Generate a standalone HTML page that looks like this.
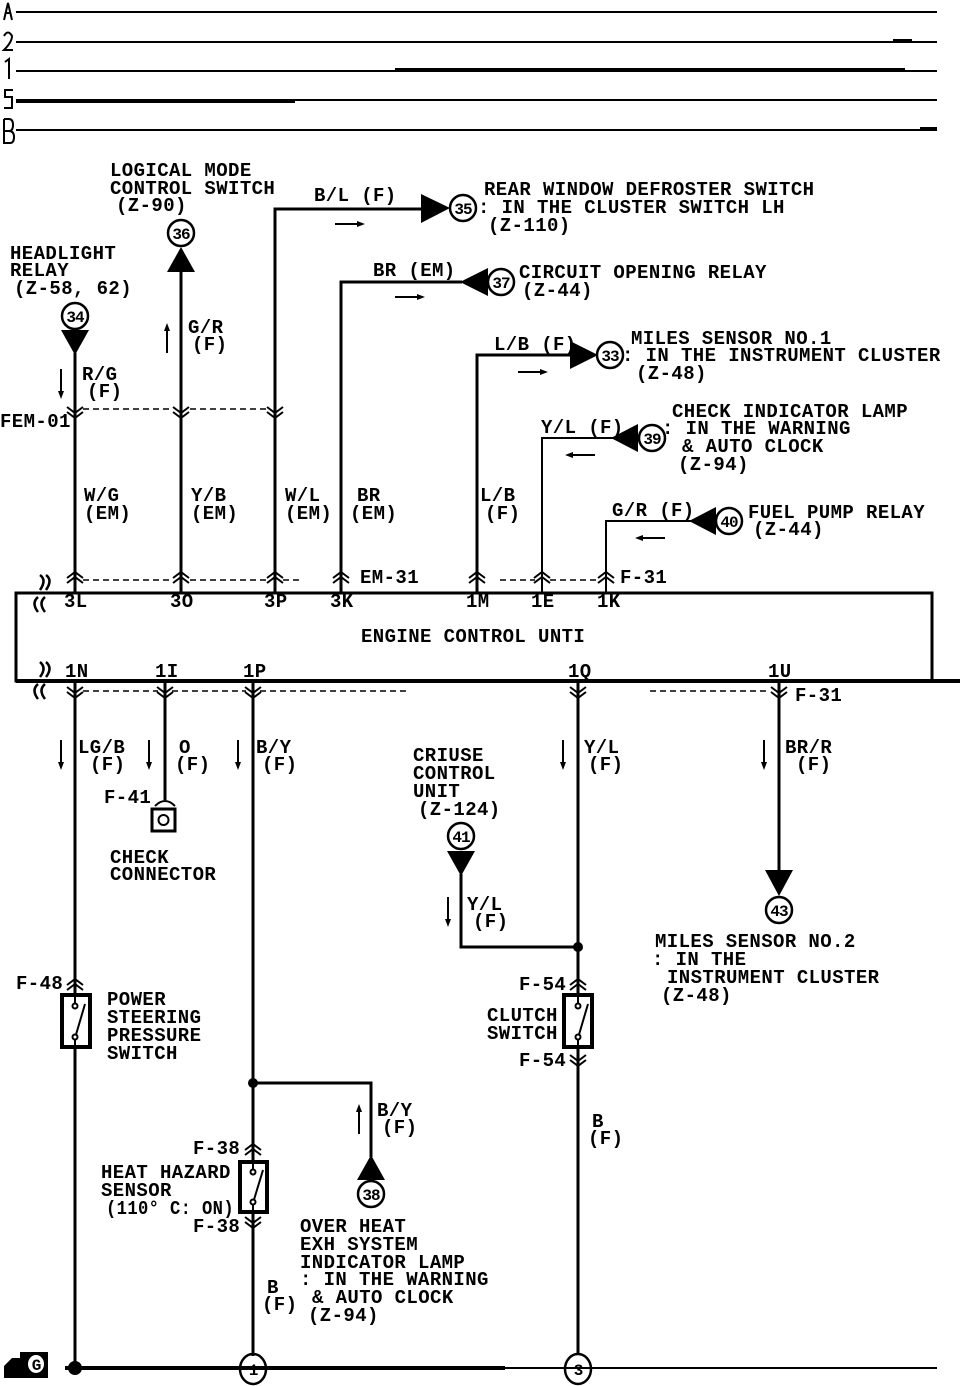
<!DOCTYPE html>
<html><head><meta charset="utf-8"><style>
html,body{margin:0;padding:0;background:#fff;}
svg{display:block;}
text{font-family:"Liberation Mono",monospace;font-size:19px;font-weight:bold;letter-spacing:0.4px;fill:#000;}
.n{font-size:16px;letter-spacing:-1px;text-anchor:middle;}
</style></head><body>
<svg width="960" height="1386" viewBox="0 0 960 1386" xmlns="http://www.w3.org/2000/svg">
<defs>
<g id="up"><path d="M-8,5 L0,-1 L8,5 M-8,0 L0,-6 L8,0" fill="none" stroke="#000" stroke-width="2"/></g>
<g id="dn"><path d="M-8,-5 L0,1 L8,-5 M-8,0 L0,6 L8,0" fill="none" stroke="#000" stroke-width="2"/></g>
<g id="ad"><path d="M0,0 V24" stroke="#000" stroke-width="2"/><path d="M-3,22 L0,30 L3,22Z" fill="#000"/></g>
<g id="au"><path d="M0,30 V6" stroke="#000" stroke-width="2"/><path d="M-3,8 L0,0 L3,8Z" fill="#000"/></g>
<g id="ar"><path d="M0,0 H24" stroke="#000" stroke-width="2"/><path d="M22,-3 L30,0 L22,3Z" fill="#000"/></g>
<g id="al"><path d="M30,0 H6" stroke="#000" stroke-width="2"/><path d="M8,-3 L0,0 L8,3Z" fill="#000"/></g>
</defs>

<!-- bus lines -->
<g stroke="#000" stroke-width="2">
<path d="M16,12 H937 M16,42 H937 M16,71 H937 M16,100 H937 M16,130 H937"/>
</g>
<g stroke="#000" stroke-width="4">
<path d="M893,41 H912 M395,70 H905 M16,101 H295 M920,129 H937"/>
</g>
<g stroke="#000" stroke-width="2" fill="none">
<path d="M4,20 L8,3 L12,20 M5,13 H11"/>
<path d="M4,36 Q8,29 12,36 Q12,42 4,50 H13"/>
<path d="M5,62 L9,59 V79"/>
<path d="M13,90 H5 V97 H12 V108 H4"/>
<path d="M4,119 V143 H10 Q14,143 14,137 Q14,131 9,131 H4 M4,131 H9 Q13,131 13,125 Q13,119 9,119 H4"/>
</g>

<!-- ECU box -->
<rect x="16" y="593" width="916" height="88" fill="none" stroke="#000" stroke-width="3"/>
<path d="M16,681 H932 M866,681 H960" stroke="#000" stroke-width="4"/>
<text x="361" y="642">ENGINE CONTROL UNTI</text>

<!-- top wires -->
<g stroke="#000" stroke-width="3" fill="none">
<path d="M75,353 V593"/>
<path d="M181,272 V593"/>
<path d="M275,593 V209 H422"/>
<path d="M341,593 V282 H462"/>
<path d="M477,593 V355 H572"/>
</g>
<g stroke="#000" stroke-width="2" fill="none">
<path d="M542,593 V438 H614"/>
<path d="M606,593 V521 H692"/>
</g>
<!-- triangles -->
<g fill="#000">
<path d="M61,330 H89 L75,355Z"/>
<path d="M167,272 H195 L181,247Z"/>
<path d="M421,194 V223 L450,208Z"/>
<path d="M488,268 V296 L460,282Z"/>
<path d="M570,341 V369 L598,355Z"/>
<path d="M638,424 V452 L611,438Z"/>
<path d="M716,507 V535 L689,521Z"/>
<path d="M447,851 H475 L461,876Z"/>
<path d="M765,870 H793 L779,896Z"/>
<path d="M357,1180 H385 L371,1155Z"/>
</g>
<!-- numbered circles -->
<g fill="#fff" stroke="#000" stroke-width="2.5">
<circle cx="75" cy="316" r="13"/>
<circle cx="181" cy="233" r="13"/>
<circle cx="463" cy="208" r="13"/>
<circle cx="501" cy="282" r="13"/>
<circle cx="610" cy="355" r="13"/>
<circle cx="652" cy="438" r="13"/>
<circle cx="729" cy="521" r="13"/>
<circle cx="461" cy="836" r="13"/>
<circle cx="779" cy="910" r="13"/>
<circle cx="371" cy="1194" r="13"/>
<ellipse cx="253" cy="1369" rx="13" ry="15"/>
<ellipse cx="578" cy="1369" rx="13" ry="15"/>
</g>
<text class="n" x="75" y="322">34</text>
<text class="n" x="181" y="239">36</text>
<text class="n" x="463" y="214">35</text>
<text class="n" x="501" y="288">37</text>
<text class="n" x="610" y="361">33</text>
<text class="n" x="652" y="444">39</text>
<text class="n" x="729" y="527">40</text>
<text class="n" x="461" y="842">41</text>
<text class="n" x="779" y="916">43</text>
<text class="n" x="371" y="1200">38</text>
<text class="n" x="253" y="1375">1</text>
<text class="n" x="578" y="1375">3</text>

<!-- connector rows -->
<path d="M83,409 H172 M190,409 H268" stroke="#000" stroke-width="1.5" stroke-dasharray="6,4" fill="none"/>
<use href="#dn" x="75" y="412"/><use href="#dn" x="181" y="412"/><use href="#dn" x="275" y="412"/>
<path d="M83,580 H172 M190,580 H268 M283,580 H300 M500,580 H535 M550,580 H598" stroke="#000" stroke-width="1.5" stroke-dasharray="6,4" fill="none"/>
<use href="#up" x="75" y="578"/><use href="#up" x="181" y="578"/><use href="#up" x="275" y="578"/><use href="#up" x="341" y="578"/><use href="#up" x="477" y="578"/><use href="#up" x="542" y="578"/><use href="#up" x="606" y="578"/>
<path d="M83,691 H158 M172,691 H246 M260,691 H410 M650,691 H770" stroke="#000" stroke-width="1.5" stroke-dasharray="6,4" fill="none"/>
<use href="#dn" x="75" y="692"/><use href="#dn" x="165" y="692"/><use href="#dn" x="253" y="692"/><use href="#dn" x="578" y="692"/><use href="#dn" x="779" y="692"/>
<g stroke="#000" stroke-width="2.5" fill="none">
<path d="M40,575 Q47,580 40,590 M46,575 Q53,580 46,590"/>
<path d="M38,597 Q31,603 38,612 M45,597 Q38,603 45,612"/>
<path d="M40,662 Q47,668 40,677 M46,662 Q53,668 46,677"/>
<path d="M38,684 Q31,690 38,699 M45,684 Q38,690 45,699"/>
</g>

<!-- bottom wires -->
<g stroke="#000" stroke-width="3" fill="none">
<path d="M75,681 V1368"/>
<path d="M165,681 V800"/>
<path d="M253,681 V1356"/>
<path d="M578,681 V1354"/>
<path d="M779,681 V872"/>
<path d="M253,1083 H371 V1157"/>
<path d="M578,947 H461 V874"/>
</g>
<circle cx="253" cy="1083" r="5" fill="#000"/>
<circle cx="578" cy="947" r="5" fill="#000"/>
<!-- check connector -->
<path d="M155,806 Q165,796 175,806" stroke="#000" stroke-width="2" fill="none"/>
<rect x="152" y="809" width="23" height="22" fill="#fff" stroke="#000" stroke-width="3"/>
<circle cx="163.5" cy="820" r="5" fill="none" stroke="#000" stroke-width="2"/>
<!-- switches -->
<g stroke="#000" fill="#fff">
<rect x="62" y="995" width="28" height="52" stroke-width="4"/>
<rect x="240" y="1162" width="27" height="50" stroke-width="4"/>
<rect x="564" y="995" width="28" height="52" stroke-width="4"/>
</g>
<g stroke="#000" stroke-width="2" fill="#fff">
<path d="M75,995 V1004 M75,1038 V1047 M85,1004 L75,1038"/><circle cx="75" cy="1006" r="2.5"/><circle cx="75" cy="1037" r="2.5"/>
<path d="M253,1162 V1170 M253,1203 V1212 M263,1170 L253,1203"/><circle cx="253" cy="1172" r="2.5"/><circle cx="253" cy="1202" r="2.5"/>
<path d="M578,995 V1004 M578,1038 V1047 M588,1004 L578,1038"/><circle cx="578" cy="1006" r="2.5"/><circle cx="578" cy="1037" r="2.5"/>
</g>
<use href="#up" x="75" y="985"/><use href="#up" x="253" y="1150"/><use href="#dn" x="253" y="1222"/>
<use href="#up" x="578" y="985"/><use href="#dn" x="578" y="1060"/>

<!-- ground bus -->
<path d="M65,1368 H937" stroke="#000" stroke-width="2"/>
<path d="M65,1368 H505" stroke="#000" stroke-width="4"/>
<circle cx="75" cy="1368" r="7" fill="#000"/>
<path d="M4,1378 V1366 L12,1358 H20 V1352 H48 V1378 Z" fill="#000"/>
<ellipse cx="36" cy="1364" rx="9" ry="10" fill="#fff" stroke="#000" stroke-width="2"/>
<text class="n" x="36" y="1370">G</text>

<!-- small arrows -->
<use href="#ad" x="61" y="369"/><use href="#au" x="167" y="323"/>
<use href="#ar" x="335" y="224"/><use href="#ar" x="395" y="297"/><use href="#ar" x="518" y="372"/>
<use href="#al" x="565" y="455"/><use href="#al" x="635" y="538"/>
<use href="#ad" x="61" y="740"/><use href="#ad" x="149" y="740"/><use href="#ad" x="238" y="740"/><use href="#ad" x="563" y="740"/><use href="#ad" x="764" y="740"/>
<use href="#ad" x="448" y="897"/><use href="#au" x="359" y="1104"/>

<!-- labels -->
<text x="110" y="176">LOGICAL MODE</text>
<text x="110" y="194">CONTROL SWITCH</text>
<text x="116" y="211">(Z-90)</text>
<text x="10" y="259">HEADLIGHT</text>
<text x="10" y="276">RELAY</text>
<text x="14" y="294">(Z-58, 62)</text>
<text x="82" y="380">R/G</text><text x="87" y="397">(F)</text>
<text x="188" y="333">G/R</text><text x="192" y="350">(F)</text>
<text x="314" y="201">B/L (F)</text>
<text x="373" y="276">BR (EM)</text>
<text x="494" y="350">L/B (F)</text>
<text x="541" y="433">Y/L (F)</text>
<text x="612" y="516">G/R (F)</text>
<text x="484" y="195">REAR WINDOW DEFROSTER SWITCH</text>
<text x="478" y="213">: IN THE CLUSTER SWITCH LH</text>
<text x="488" y="231">(Z-110)</text>
<text x="519" y="278">CIRCUIT OPENING RELAY</text>
<text x="522" y="296">(Z-44)</text>
<text x="631" y="344">MILES SENSOR NO.1</text>
<text x="622" y="361">: IN THE INSTRUMENT CLUSTER</text>
<text x="636" y="379">(Z-48)</text>
<text x="672" y="417">CHECK INDICATOR LAMP</text>
<text x="662" y="434">: IN THE WARNING</text>
<text x="682" y="452">&amp; AUTO CLOCK</text>
<text x="678" y="470">(Z-94)</text>
<text x="748" y="518">FUEL PUMP RELAY</text>
<text x="753" y="535">(Z-44)</text>
<text x="0" y="427">FEM-01</text>
<text x="84" y="501">W/G</text><text x="84" y="519">(EM)</text>
<text x="191" y="501">Y/B</text><text x="191" y="519">(EM)</text>
<text x="285" y="501">W/L</text><text x="285" y="519">(EM)</text>
<text x="357" y="501">BR</text><text x="350" y="519">(EM)</text>
<text x="480" y="501">L/B</text><text x="485" y="519">(F)</text>
<text x="360" y="583">EM-31</text>
<text x="620" y="583">F-31</text>
<text x="64" y="607">3L</text><text x="170" y="607">3O</text><text x="264" y="607">3P</text><text x="330" y="607">3K</text>
<text x="466" y="607">1M</text><text x="531" y="607">1E</text><text x="597" y="607">1K</text>
<text x="65" y="677">1N</text><text x="155" y="677">1I</text><text x="243" y="677">1P</text><text x="568" y="677">1Q</text><text x="768" y="677">1U</text>
<text x="795" y="701">F-31</text>
<text x="78" y="753">LG/B</text><text x="90" y="770">(F)</text>
<text x="179" y="753">O</text><text x="175" y="770">(F)</text>
<text x="256" y="753">B/Y</text><text x="262" y="770">(F)</text>
<text x="584" y="753">Y/L</text><text x="588" y="770">(F)</text>
<text x="785" y="753">BR/R</text><text x="796" y="770">(F)</text>
<text x="104" y="803">F-41</text>
<text x="110" y="863">CHECK</text>
<text x="110" y="880">CONNECTOR</text>
<text x="413" y="761">CRIUSE</text>
<text x="413" y="779">CONTROL</text>
<text x="413" y="797">UNIT</text>
<text x="418" y="815">(Z-124)</text>
<text x="467" y="910">Y/L</text><text x="473" y="927">(F)</text>
<text x="655" y="947">MILES SENSOR NO.2</text>
<text x="652" y="965">: IN THE</text>
<text x="667" y="983">INSTRUMENT CLUSTER</text>
<text x="661" y="1001">(Z-48)</text>
<text x="16" y="989">F-48</text>
<text x="107" y="1005">POWER</text>
<text x="107" y="1023">STEERING</text>
<text x="107" y="1041">PRESSURE</text>
<text x="107" y="1059">SWITCH</text>
<text x="519" y="990">F-54</text>
<text x="487" y="1021">CLUTCH</text>
<text x="487" y="1039">SWITCH</text>
<text x="519" y="1066">F-54</text>
<text x="377" y="1116">B/Y</text><text x="382" y="1133">(F)</text>
<text x="592" y="1127">B</text><text x="588" y="1144">(F)</text>
<text x="193" y="1154">F-38</text>
<text x="101" y="1178">HEAT HAZARD</text>
<text x="101" y="1196">SENSOR</text>
<text x="106" y="1214" textLength="128" lengthAdjust="spacingAndGlyphs">(110° C: ON)</text>
<text x="193" y="1232">F-38</text>
<text x="300" y="1232">OVER HEAT</text>
<text x="300" y="1250">EXH SYSTEM</text>
<text x="300" y="1268">INDICATOR LAMP</text>
<text x="300" y="1285">: IN THE WARNING</text>
<text x="312" y="1303">&amp; AUTO CLOCK</text>
<text x="308" y="1321">(Z-94)</text>
<text x="267" y="1293">B</text><text x="262" y="1310">(F)</text>
</svg>
</body></html>
